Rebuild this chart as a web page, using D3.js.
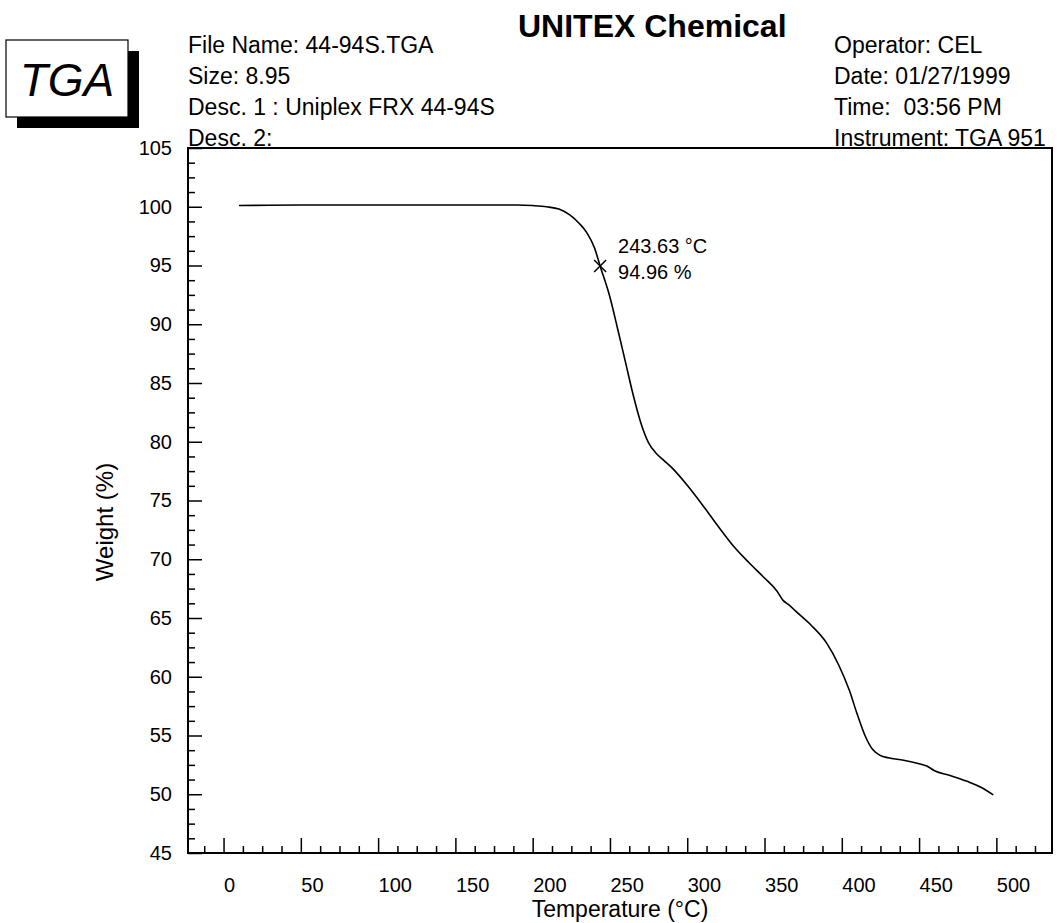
<!DOCTYPE html>
<html>
<head>
<meta charset="utf-8">
<script src="https://cdn.jsdelivr.net/npm/d3@7"></script>
<style>
  body { margin: 0; background: #fff; }
  svg { display: block; font-family: "Liberation Sans", Arial, sans-serif; }
  text { white-space: pre; }
</style>
</head>
<body>
<div id="container"></div>
<script>
const width = 1057, height = 923;

// data
const temps = [10, 50, 100, 150, 190, 200, 209, 217, 224, 230, 235, 240, 243.63, 250, 255, 260, 265, 270, 275, 280,
  285, 290, 300, 310, 320, 330, 340, 350, 358, 362, 366, 370, 380, 390, 398, 405, 410, 415, 420, 425,
  430, 440, 450, 455, 460, 470, 481, 490, 498];
const weights = [100.1, 100.15, 100.15, 100.15, 100.15, 100.1, 100.0, 99.8, 99.3, 98.6, 97.8, 96.5, 94.96, 92.3, 89.6, 86.8, 84.0, 81.6, 79.9, 79.0,
  78.4, 77.8, 76.3, 74.6, 72.8, 71.1, 69.7, 68.4, 67.3, 66.5, 66.1, 65.6, 64.4, 62.9, 61.0, 58.8, 56.8, 55.0, 53.8, 53.3,
  53.1, 52.9, 52.6, 52.4, 52.0, 51.6, 51.1, 50.6, 49.95];

const xMajor = [0, 50, 100, 150, 200, 250, 300, 350, 400, 450, 500];
const yMajor = [45, 50, 55, 60, 65, 70, 75, 80, 85, 90, 95, 100, 105];

const marker = { t: 243.63, w: 94.96, label1: "243.63 °C", label2: "94.96 %" };

const headerLeft = ["File Name: 44-94S.TGA", "Size: 8.95", "Desc. 1 : Uniplex FRX 44-94S", "Desc. 2:"];
const headerRight = ["Operator: CEL", "Date: 01/27/1999", "Time:  03:56 PM", "Instrument: TGA 951"];

const plot = { left: 188, right: 1052, top: 148, bottom: 853 };

const x = d3.scaleLinear().domain([-23, 536]).range([plot.left, plot.right]);
const y = d3.scaleLinear().domain([45, 105]).range([plot.bottom, plot.top]);

const svg = d3.select("#container").append("svg")
    .attr("width", width)
    .attr("height", height);

svg.append("rect").attr("width", width).attr("height", height).attr("fill", "#fff");

// TGA badge with drop shadow
svg.append("rect").attr("x", 17).attr("y", 51).attr("width", 122).attr("height", 77).attr("fill", "#000");
svg.append("rect").attr("x", 6).attr("y", 40).attr("width", 122).attr("height", 77)
    .attr("fill", "#fff").attr("stroke", "#000").attr("stroke-width", 1.2);
svg.append("text").attr("x", 67).attr("y", 96).attr("text-anchor", "middle")
    .attr("font-size", 46).attr("font-style", "italic").text("TGA");

// header
svg.append("text").attr("x", 518).attr("y", 37).attr("font-size", 32).attr("font-weight", "bold")
    .text("UNITEX Chemical");

svg.selectAll("text.hl").data(headerLeft).enter().append("text")
    .attr("class", "hl")
    .attr("x", 188).attr("y", (d, i) => 53 + i * 31)
    .attr("font-size", 23)
    .text(d => d);

svg.selectAll("text.hr").data(headerRight).enter().append("text")
    .attr("class", "hr")
    .attr("x", 834).attr("y", (d, i) => 53 + i * 31)
    .attr("font-size", 23)
    .text(d => d);

// minor ticks every 12.5 on x, 1.25 on y
const xMinor = d3.range(-12.5, 530, 12.5).filter(v => v % 50 !== 0);
const yMinor = d3.range(45, 105.01, 1.25).filter(v => v % 5 !== 0);

const gx = svg.append("g").attr("transform", `translate(0,${plot.bottom})`);
gx.call(d3.axisBottom(x).tickValues(xMajor).tickSizeInner(-15).tickSizeOuter(0).tickPadding(25))
    .call(g => g.select(".domain").remove())
    .call(g => g.selectAll("line").attr("stroke-width", 1.5))
    .call(g => g.selectAll("text").attr("font-size", 20).attr("text-anchor", "start").attr("fill", "#000")
        .attr("font-family", null));
gx.append("g")
    .call(d3.axisBottom(x).tickValues(xMinor).tickFormat("").tickSizeInner(-7).tickSizeOuter(0))
    .call(g => g.select(".domain").remove())
    .call(g => g.selectAll("line").attr("stroke-width", 1.5));

const gy = svg.append("g").attr("transform", `translate(${plot.left},0)`);
gy.call(d3.axisLeft(y).tickValues(yMajor).tickSizeInner(-14).tickSizeOuter(0).tickPadding(16))
    .call(g => g.select(".domain").remove())
    .call(g => g.selectAll("line").attr("stroke-width", 1.5))
    .call(g => g.selectAll("text").attr("font-size", 20).attr("fill", "#000").attr("font-family", null));
gy.append("g")
    .call(d3.axisLeft(y).tickValues(yMinor).tickFormat("").tickSizeInner(-7).tickSizeOuter(0))
    .call(g => g.select(".domain").remove())
    .call(g => g.selectAll("line").attr("stroke-width", 1.5));

// frame
svg.append("rect")
    .attr("x", plot.left).attr("y", plot.top)
    .attr("width", plot.right - plot.left).attr("height", plot.bottom - plot.top)
    .attr("fill", "none").attr("stroke", "#000").attr("stroke-width", 2);

// axis titles
svg.append("text").attr("x", (plot.left + plot.right) / 2).attr("y", 917)
    .attr("text-anchor", "middle").attr("font-size", 23).text("Temperature (°C)");
svg.append("text").attr("transform", "translate(113,522) rotate(-90)")
    .attr("text-anchor", "middle").attr("font-size", 24).text("Weight (%)");

// trace
const line = d3.line().x((d, i) => x(temps[i])).y(d => y(d)).curve(d3.curveMonotoneX);
svg.append("path").datum(weights)
    .attr("d", line)
    .attr("fill", "none").attr("stroke", "#000").attr("stroke-width", 1.6);

// marker + annotation
const mx = x(marker.t), my = y(marker.w);
svg.append("path")
    .attr("d", `M${mx - 6},${my - 6}L${mx + 6},${my + 6}M${mx - 6},${my + 6}L${mx + 6},${my - 6}`)
    .attr("stroke", "#000").attr("stroke-width", 1.5);
svg.append("text").attr("x", mx + 18).attr("y", my - 13).attr("font-size", 20).text(marker.label1);
svg.append("text").attr("x", mx + 18).attr("y", my + 13).attr("font-size", 20).text(marker.label2);
</script>
</body>
</html>
